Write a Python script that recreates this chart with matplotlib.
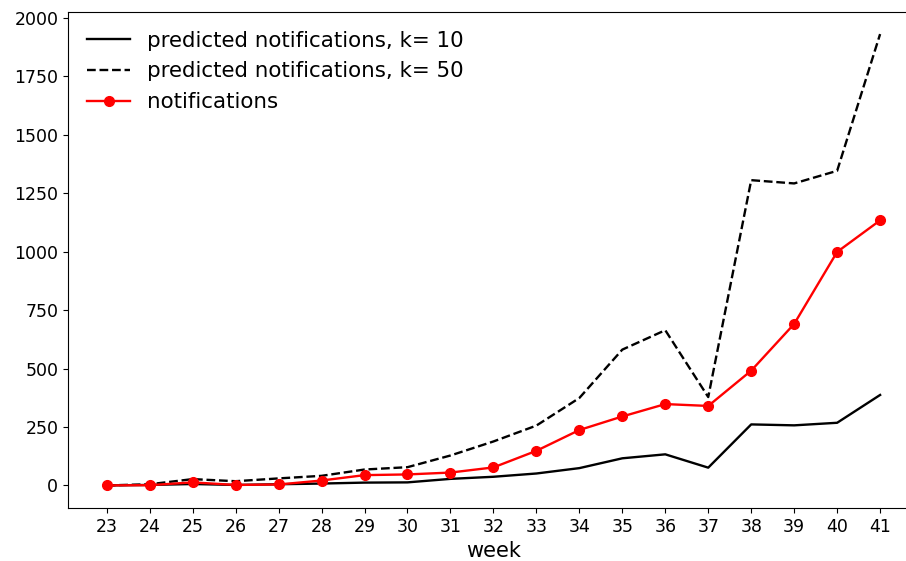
import numpy as np
import matplotlib
matplotlib.use('Agg')
import matplotlib.pyplot as plt

weeks = list(range(23, 42))
pred_k10 = [0, 2, 6, 2, 5, 8, 12, 13, 28, 37, 51, 74, 116, 133, 76, 261, 257, 268, 387]
pred_k50 = [0, 5, 27, 18, 30, 41, 68, 78, 128, 188, 256, 374, 581, 664, 378, 1306, 1292, 1346, 1931]
notifications = [0, 1, 13, 2, 4, 21, 44, 47, 55, 77, 148, 237, 295, 348, 340, 491, 691, 999, 1134]

fig = plt.figure(figsize=(9.06, 5.61), dpi=100)
ax = fig.add_axes([0.0751, 0.0945, 0.939, 0.885])

ax.plot(weeks, pred_k10, 'k-', lw=1.7, label='predicted notifications, k= 10')
ax.plot(weeks, pred_k50, 'k--', lw=1.7, label='predicted notifications, k= 50')
ax.plot(weeks, notifications, 'r-o', lw=1.7, ms=7, label='notifications')

ax.set_xticks(weeks)
ax.tick_params(labelsize=12.5)
ax.set_xlabel('week', fontsize=15)
ax.legend(frameon=False, fontsize=15.4, loc='upper left')

fig.savefig('out.png', dpi=100)
